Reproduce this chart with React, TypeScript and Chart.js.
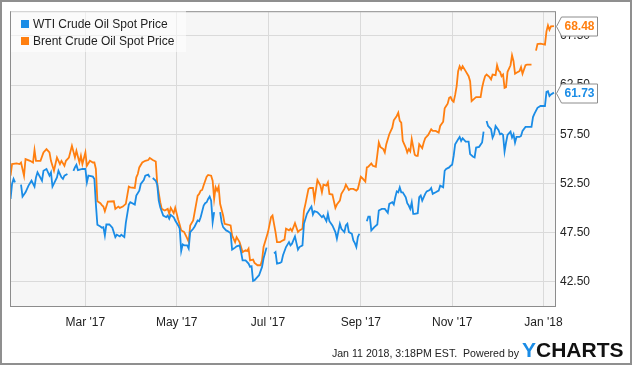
import React, { useEffect, useRef } from "react";
import { Chart, registerables } from "chart.js";

Chart.register(...registerables);

// x values are day numbers counted from 1 Jan 2017 (= 1); 1 Jan 2018 = 366
const monthTickDays = [60, 121, 182, 244, 305, 366];
const monthTickLabels = ["Mar '17", "May '17", "Jul '17", "Sep '17", "Nov '17", "Jan '18"];
const priceTicks = [42.5, 47.5, 52.5, 57.5, 62.5, 67.5];

const seriesNames = ["WTI Crude Oil Spot Price", "Brent Crude Oil Spot Price"];
const seriesColors = ["#1a8ce6", "#ff7f10"];

// [day, price]; null = no quote (holiday gap)
const wtiSeries: Array<[number, number | null]> = [
  [10, 50.93], [11, 52.45], [12, 52.96], [13, 52.61], [16, null], [17, 52.38], [18, 51.17], [20, 51.6], [22, 52.28], [24, 52.78],
  [26, 52.18], [27, 53.12], [28, 53.62], [31, 52.78], [32, 53.79], [34, 53.97], [36, 53.29], [37, 53.62], [38, 52.18], [41, 53.12],
  [42, 53.79], [44, 53.12], [45, 52.96], [46, 53.29], [48, 53.46], [51, null], [52, 53.79], [53, 54.13], [54, 54.4], [55, 53.86],
  [58, 53.97], [60, 53.97], [61, 52.61], [62, 53.29], [65, 53.19], [66, 52.96], [67, 50.4], [68, 48.3], [70, 48.13], [71, 48.0],
  [72, 48.06], [73, 47.22], [74, 48.33], [76, 48.33], [78, 48.0], [80, 47.05], [81, 47.29], [83, 47.12], [84, 47.29], [86, 47.05],
  [87, 48.5], [89, 50.36], [90, 50.59], [93, 50.36], [94, 51.27], [96, 51.77], [97, 52.45], [99, 52.85], [100, 53.29], [102, 53.39],
  [103, 53.12], [104, null], [105, 53.05], [107, 52.78], [108, 52.38], [109, 50.76], [110, 50.08], [112, 49.24], [114, 49.07], [115, 49.24],
  [116, 48.91], [117, 49.31], [119, 49.07], [120, 48.74], [122, 48.23], [123, 47.9], [124, 45.63], [125, 46.31], [126, 46.21], [128, 46.21],
  [129, 45.88], [130, 47.56], [132, 47.9], [133, 48.13], [135, 48.74], [136, 48.67], [137, 49.07], [139, 50.26], [140, 50.49], [141, 50.59],
  [142, 50.93], [143, 51.17], [144, 50.76], [145, 48.57], [146, 49.58], [149, null], [150, 49.58], [151, 48.57], [152, 48.06], [154, 47.73],
  [155, 47.66], [157, 47.45], [158, 45.78], [160, 45.98], [161, 46.11], [163, 46.21], [164, 45.53], [165, 44.69], [167, 44.69], [169, 44.36],
  [170, 44.02], [171, 44.09], [172, 42.6], [173, 42.67], [175, 43.01], [176, 43.18], [178, 44.02], [179, 44.87], [181, 45.98], [184, null],
  [186, 45.4], [187, 45.53], [188, 44.36], [190, 44.42], [191, 44.52], [192, 45.2], [194, 46.04], [196, 46.54], [197, 46.21], [198, 46.38],
  [200, 47.12], [201, 46.44], [202, 45.78], [203, 46.04], [205, 46.21], [206, 48.4], [208, 49.42], [210, 49.92], [211, 50.15], [212, 49.35],
  [213, 49.68], [215, 49.58], [216, 49.42], [218, 49.07], [219, 49.24], [221, 48.67], [222, 49.42], [223, 48.67], [225, 48.23], [227, 47.56],
  [228, 46.89], [230, 48.4], [231, 47.9], [233, 47.56], [234, 48.23], [235, 48.4], [236, 47.56], [238, 47.39], [239, 46.72], [240, 46.44],
  [241, 46.04], [242, 47.05], [243, 47.39], [247, null], [248, 48.67], [249, 49.14], [250, 49.14], [251, 47.73], [253, 48.06], [255, 48.33],
  [256, 49.75], [258, 49.92], [260, 49.92], [262, 49.52], [263, 50.43], [265, 50.59], [266, 50.36], [267, 51.1], [268, 51.7], [269, 51.6],
  [270, 52.11], [271, 51.6], [272, 51.6], [274, 51.1], [275, 50.49], [276, 50.26], [277, 49.92], [278, 50.59], [279, 49.42], [280, 49.42],
  [282, 49.48], [283, 51.1], [284, 51.27], [285, 50.76], [287, 51.44], [288, 51.7], [290, 51.84], [291, 52.04], [292, 51.44], [294, 51.6],
  [296, 51.77], [297, 52.28], [299, 52.11], [300, 53.79], [301, 53.97], [303, 54.13], [304, 54.3], [305, 54.4], [306, 55.3], [307, 56.49],
  [309, 57.0], [310, 57.23], [311, 56.83], [312, 57.1], [314, 56.76], [316, 56.76], [317, 55.48], [319, 55.21], [320, 55.14], [321, 56.15],
  [323, 56.22], [325, 56.66], [326, 57.77], [327, null], [328, 58.85], [329, 58.34], [331, 58.01], [332, 57.16], [333, 57.5], [334, 58.34],
  [336, 57.91], [337, 57.5], [338, 57.57], [339, 57.43], [340, 55.75], [341, 56.66], [342, 57.43], [344, 57.77], [345, 57.16], [346, 57.5],
  [347, 56.66], [348, 57.23], [350, 57.23], [351, 57.33], [352, 57.84], [354, 58.24], [356, 58.24], [358, 58.24], [359, 59.25], [360, 59.59],
  [362, 60.19], [364, 60.37], [366, 60.37], [367, 60.37], [368, 61.81], [369, 61.88], [370, 61.38], [371, 61.55], [373, 61.73],
];

const brentSeries: Array<[number, number | null]> = [
  [10, 53.29], [11, 54.47], [14, 54.53], [16, 54.47], [17, 54.63], [19, 53.29], [20, 54.98], [23, 54.8], [25, 54.63], [26, 55.89],
  [27, 54.8], [30, 54.8], [32, 55.65], [34, 55.99], [36, 55.65], [37, 54.8], [39, 53.8], [40, 54.47], [41, 55.14], [43, 54.47],
  [44, 54.8], [46, 54.3], [47, 54.8], [49, 55.14], [51, 56.32], [53, 55.14], [54, 55.82], [56, 54.63], [57, 55.31], [58, 54.47],
  [60, 55.65], [61, 54.3], [63, 54.8], [65, 54.63], [66, 54.63], [67, 53.97], [68, 50.7], [70, 50.49], [71, 50.3], [72, 50.15],
  [73, 49.68], [75, 50.66], [79, 50.69], [80, 49.92], [82, 50.15], [83, 50.02], [85, 50.15], [87, 50.43], [89, 52.18], [90, 52.11],
  [93, 52.04], [94, 53.12], [95, 53.46], [96, 54.13], [98, 54.63], [100, 54.8], [102, 54.88], [103, 55.08], [105, 54.88], [107, 54.73],
  [108, 52.45], [110, 50.59], [111, 49.92], [113, 49.75], [115, 49.92], [116, 49.42], [117, 50.02], [119, 49.48], [120, 50.02], [122, 48.81],
  [123, 48.3], [124, 47.73], [126, 47.56], [128, 46.92], [129, 46.58], [130, 48.23], [132, 48.74], [133, 49.58], [135, 51.27], [136, 51.44],
  [137, 51.77], [138, 51.84], [139, 52.31], [141, 53.19], [142, 53.36], [144, 53.29], [145, 52.78], [146, 50.93], [147, 52.11], [148, 51.77],
  [149, 52.18], [150, 50.43], [152, 49.24], [153, 48.4], [155, 48.33], [157, 48.23], [158, 47.22], [160, 46.54], [161, 47.05], [163, 46.54],
  [165, 45.53], [167, 45.71], [168, 45.63], [169, 45.88], [170, 44.69], [172, 44.76], [173, 44.42], [175, 44.19], [177, 44.19], [178, 44.69],
  [179, 46.04], [181, 47.05], [182, 47.56], [184, 49.07], [185, 49.24], [186, 48.4], [187, 47.56], [188, 46.54], [190, 46.54], [192, 46.72],
  [193, 46.79], [194, 47.9], [196, 47.73], [197, 47.9], [198, 47.66], [200, 48.47], [202, 47.56], [203, 47.73], [205, 47.9], [206, 49.75],
  [207, 50.43], [209, 51.94], [210, 52.04], [212, 52.04], [213, 50.83], [215, 52.85], [217, 52.28], [218, 51.6], [219, 52.38], [221, 52.28],
  [222, 52.61], [223, 51.44], [225, 51.37], [227, 50.02], [228, 50.36], [230, 50.76], [231, 51.44], [233, 51.94], [234, 52.38], [236, 51.84],
  [237, 51.94], [239, 51.94], [241, 51.77], [242, 51.94], [244, 53.19], [245, 53.05], [247, 52.7], [248, 54.13], [249, 54.2], [251, 54.53],
  [252, 54.3], [254, 54.2], [255, 55.41], [256, 56.66], [257, 56.22], [259, 55.99], [260, 55.65], [261, 56.49], [263, 57.5], [265, 58.17],
  [266, 58.92], [268, 59.36], [269, 59.69], [270, 58.85], [271, 58.68], [272, 56.83], [274, 56.15], [275, 55.65], [276, 55.99], [277, 55.75],
  [278, 57.0], [280, 55.41], [281, 55.31], [282, 55.31], [283, 56.49], [285, 56.09], [286, 56.66], [287, 57.1], [289, 57.43], [291, 58.01],
  [292, 57.84], [294, 57.84], [296, 57.67], [297, 58.34], [299, 58.78], [300, 60.13], [301, 60.37], [302, 60.6], [303, 61.2], [304, 61.28],
  [305, 60.94], [306, 60.8], [307, 61.5], [308, 62.39], [309, 63.91], [310, 64.41], [311, 64.08], [312, 64.41], [314, 63.91], [316, 63.4],
  [317, 62.89], [318, 60.87], [320, 61.15], [321, 61.28], [324, 61.28], [325, 62.22], [326, 62.89], [327, 63.4], [328, 63.57], [330, 63.3],
  [331, 63.07], [332, 63.57], [334, 63.5], [335, 64.51], [336, 63.97], [337, 63.84], [338, 63.4], [339, 63.57], [340, 62.22], [341, 62.29],
  [342, 63.84], [344, 64.51], [345, 65.52], [346, 64.92], [347, 63.64], [348, 63.74], [350, 63.91], [351, 64.31], [352, 63.64], [354, 64.51],
  [355, 64.58], [358, 64.58], [359, null], [361, 66.0], [362, 66.67], [364, 66.7], [367, 66.6], [368, 67.95], [369, 68.56], [370, 68.12],
  [371, 68.46], [373, 68.48],
];

const FONT = '"Liberation Sans", Arial, Helvetica, sans-serif';

const plotPlugin = {
  id: "plotFrame",
  beforeDraw(chart: any) {
    const { ctx, chartArea: a } = chart;
    ctx.save();
    ctx.fillStyle = "#f6f6f6";
    ctx.fillRect(a.left, a.top, a.right - a.left, a.bottom - a.top);
    ctx.restore();
  },
  afterDraw(chart: any) {
    const { ctx, chartArea: a } = chart;
    ctx.save();
    ctx.strokeStyle = "#8c8c8c";
    ctx.lineWidth = 1;
    ctx.strokeRect(a.left - 0.5, a.top - 0.5, a.right - a.left + 1, a.bottom - a.top + 1);
    // last-value flags
    chart.data.datasets.forEach((ds: any) => {
      let last: any = null;
      for (let k = ds.data.length - 1; k >= 0; k--) {
        if (ds.data[k].y != null) { last = ds.data[k]; break; }
      }
      if (!last) return;
      const cy = Math.round(chart.scales.y.getPixelForValue(last.y)) + 0.5;
      const tipX = a.right + 1.5;
      const bodyL = tipX + 5;
      const bodyR = bodyL + 36;
      const h = 9.5;
      ctx.beginPath();
      ctx.moveTo(tipX, cy);
      ctx.lineTo(bodyL, cy - h);
      ctx.lineTo(bodyR, cy - h);
      ctx.lineTo(bodyR, cy + h);
      ctx.lineTo(bodyL, cy + h);
      ctx.closePath();
      ctx.fillStyle = "#ffffff";
      ctx.fill();
      ctx.strokeStyle = "#8c8c8c";
      ctx.stroke();
      ctx.fillStyle = ds.borderColor;
      ctx.font = `bold 12px ${FONT}`;
      ctx.textBaseline = "middle";
      ctx.textAlign = "left";
      ctx.fillText(last.y.toFixed(2), bodyL + 3, cy + 0.5);
    });
    ctx.restore();
  },
};

export default function App() {
  const canvasRef = useRef<HTMLCanvasElement | null>(null);

  useEffect(() => {
    if (!canvasRef.current) return;
    const toPoints = (s: Array<[number, number | null]>) => s.map(([x, y]) => ({ x, y }));
    const chart = new Chart(canvasRef.current, {
      type: "line",
      data: {
        datasets: [
          {
            label: seriesNames[0],
            data: toPoints(wtiSeries) as any,
            borderColor: seriesColors[0],
            backgroundColor: seriesColors[0],
            borderWidth: 1.8,
            pointRadius: 0,
            tension: 0,
            spanGaps: false,
          },
          {
            label: seriesNames[1],
            data: toPoints(brentSeries) as any,
            borderColor: seriesColors[1],
            backgroundColor: seriesColors[1],
            borderWidth: 1.8,
            pointRadius: 0,
            tension: 0,
            spanGaps: false,
          },
        ],
      },
      options: {
        animation: false,
        responsive: false,
        maintainAspectRatio: false,
        layout: { padding: { left: 11, top: 11, right: 0, bottom: 0 } },
        plugins: { legend: { display: false }, tooltip: { enabled: false } },
        scales: {
          x: {
            type: "linear",
            min: 10.3,
            max: 373.7,
            afterBuildTicks: (s: any) => { s.ticks = monthTickDays.map((v) => ({ value: v })); },
            afterFit: (s: any) => { s.height = 60; },
            grid: { color: "#dadada", lineWidth: 1, drawTicks: false },
            border: { display: false },
            ticks: {
              padding: 9,
              autoSkip: false,
              maxRotation: 0,
              color: "#222",
              font: { family: FONT, size: 12 },
              callback: (v: any) => {
                const i = monthTickDays.indexOf(Number(v));
                return i >= 0 ? monthTickLabels[i] : "";
              },
            },
          },
          y: {
            position: "right",
            min: 40.05,
            max: 69.9,
            afterBuildTicks: (s: any) => { s.ticks = priceTicks.map((v) => ({ value: v })); },
            afterFit: (s: any) => { s.width = 80; },
            grid: { color: "#dadada", lineWidth: 1, drawTicks: false },
            border: { display: false },
            ticks: {
              padding: 5,
              color: "#222",
              font: { family: FONT, size: 12 },
              callback: (v: any) => Number(v).toFixed(2),
            },
          },
        },
      } as any,
      plugins: [plotPlugin],
    });
    return () => chart.destroy();
  }, []);

  return (
    <div style={{ position: "absolute", left: 0, top: 0, width: 635, height: 366, background: "#fff", overflow: "hidden" }}>
      <div style={{ position: "absolute", left: 0, top: 0, width: 632, height: 365, boxSizing: "border-box", border: "2px solid #8f8f8f" }} />
      <canvas ref={canvasRef} width={635} height={366} style={{ position: "absolute", left: 0, top: 0, width: 635, height: 366 }} />
      <div style={{ position: "absolute", left: 11, top: 11, width: 175, height: 41, background: "rgba(255,255,255,0.55)" }} />
      {seriesNames.map((n, i) => (
        <div
          key={n}
          style={{
            position: "absolute", left: 21, top: 17 + i * 17, height: 14, display: "flex", alignItems: "center",
            font: `12px ${FONT}`, color: "#222", whiteSpace: "nowrap",
          }}
        >
          <span style={{ display: "inline-block", width: 8, height: 8, background: seriesColors[i], marginRight: 4 }} />
          {n}
        </div>
      ))}
      <div style={{ position: "absolute", left: 250, top: 346.5, width: 269, textAlign: "right", font: `10.6px ${FONT}`, lineHeight: "13px", color: "#222", whiteSpace: "pre" }}>
        {"Jan 11 2018, 3:18PM EST.  Powered by"}
      </div>
      <div style={{ position: "absolute", left: 522, top: 339, font: `bold 21px ${FONT}`, lineHeight: "21px", color: "#111", whiteSpace: "nowrap" }}>
        <span style={{ color: "#1a8ce6" }}>Y</span>CHARTS
      </div>
    </div>
  );
}
